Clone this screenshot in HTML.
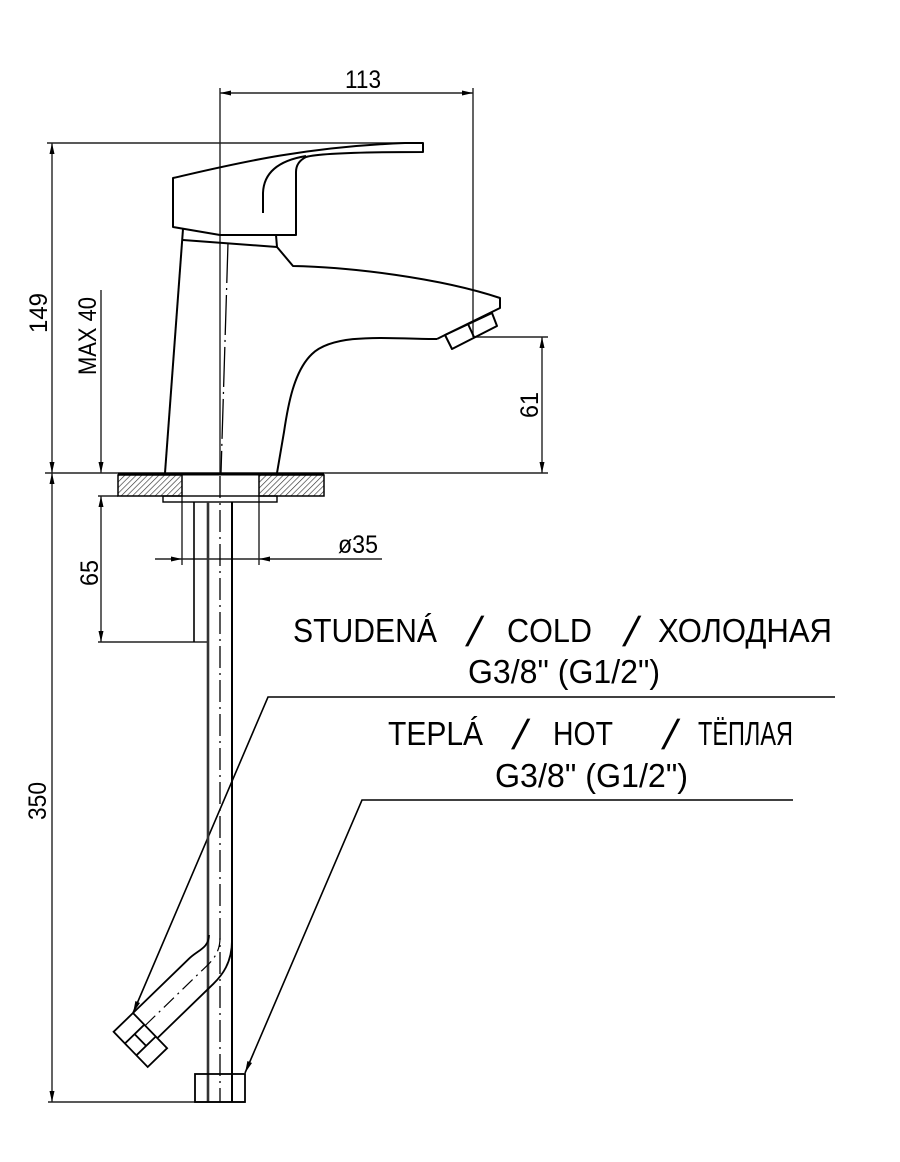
<!DOCTYPE html>
<html><head><meta charset="utf-8"><style>html,body{margin:0;padding:0;background:#fff}svg{display:block}text{font-family:"Liberation Sans Narrow","Liberation Sans",sans-serif;fill:#000}</style></head><body>
<svg width="900" height="1162" viewBox="0 0 900 1162" xmlns="http://www.w3.org/2000/svg">
<defs>
<pattern id="h" patternUnits="userSpaceOnUse" width="4" height="4" patternTransform="rotate(45)"><line x1="0" y1="0" x2="0" y2="4" stroke="#333" stroke-width="1.3"/></pattern>
</defs>
<rect width="900" height="1162" fill="#fff"/>

<!-- dimension / extension lines -->
<g stroke="#222" stroke-width="1.4" fill="none">
<path d="M220,93 L473,93"/>
<path d="M220,88 L220,473"/>
<path d="M473,88 L473,337"/>
<path d="M47,143 L405,143"/>
<path d="M52,143 L52,1102"/>
<path d="M101,290 L101,473"/>
<path d="M101,496 L101,642"/>
<path d="M473,337 L548,337"/>
<path d="M542,337 L542,473"/>
<path d="M45,473 L548,473"/>
<path d="M98,496 L118,496"/>
<path d="M98,642 L208,642"/>
<path d="M182,496 L182,565"/>
<path d="M259,496 L259,565"/>
<path d="M155,559 L382,559"/>
<path d="M48,1102 L245,1102"/>
</g>

<!-- arrowheads -->
<g fill="#000">
<polygon points="220,93 231,90.5 231,95.5"/>
<polygon points="473,93 462,90.5 462,95.5"/>
<polygon points="52,143 49.5,154 54.5,154"/>
<polygon points="52,473 49.5,462 54.5,462"/>
<polygon points="52,473 49.5,484 54.5,484"/>
<polygon points="52,1102 49.5,1091 54.5,1091"/>
<polygon points="101,473 98.5,462 103.5,462"/>
<polygon points="101,496 98.5,507 103.5,507"/>
<polygon points="101,642 98.5,631 103.5,631"/>
<polygon points="542,337 539.5,348 544.5,348"/>
<polygon points="542,473 539.5,462 544.5,462"/>
<polygon points="182,559 171,556.5 171,561.5"/>
<polygon points="259,559 270,556.5 270,561.5"/>
<polygon points="133,1013 140,1003 135.4,1001"/>
<polygon points="245,1073 252,1063 247.4,1061"/>
</g>

<!-- leaders -->
<g stroke="#000" stroke-width="1.6" fill="none">
<path d="M835,697 L268,697 L133,1013"/>
<path d="M793,800 L362,800 L245,1073"/>
</g>

<!-- faucet object lines -->
<g stroke="#000" stroke-width="2" fill="none" stroke-linejoin="round">
<path d="M173,227 L173,178 C230,165 300,147 405,143 L423,143 L423,152 C370,152 320,153 306,157 Q296,162 296,172 L296,235 L220,235 Z"/>
<path d="M263,213 L263,193 Q264,163 306,156"/>
<path d="M183,229 L165,473"/>
<path d="M183,240 L277,247"/>
<path d="M276,235 L277,247 L293,266 C350,267 440,278 500,298 L500,308 L445,335 L437,339"/>
<path d="M437,339 C390,339 335,332 312,354 C294,371 288,405 284,432 L277,473"/>
<polygon points="445,335 452,349 497,326 492,313"/>
<path d="M468,324 L474,337"/>
</g>

<!-- centerline in body -->
<path d="M228,243 L221,473" stroke="#000" stroke-width="1.3" fill="none" stroke-dasharray="40 5 2 5"/>

<!-- base plates -->
<rect x="118" y="475" width="64" height="21" fill="url(#h)" stroke="#000" stroke-width="1.5"/>
<rect x="259" y="475" width="65" height="21" fill="url(#h)" stroke="#000" stroke-width="1.5"/>
<path d="M118,474 L324,474" stroke="#000" stroke-width="3"/>
<rect x="163" y="496" width="114" height="6" fill="none" stroke="#000" stroke-width="1.4"/>

<!-- stud and pipe -->
<g stroke="#000" fill="none">
<path d="M194,502 L194,642" stroke-width="1.6"/>
<path d="M208,502 L208,1102" stroke-width="2.6" stroke="#333"/>
<path d="M232,502 L232,1102" stroke-width="2"/>
<path d="M220,476 L220,1102" stroke-width="1.3" stroke-dasharray="22 5 2 5"/>
<rect x="195" y="1074" width="50" height="28" stroke-width="1.8"/>
</g>

<!-- cold hose bent -->
<g stroke="#000" fill="none" stroke-width="1.8">
<path d="M133,1013 L189,958.7 C197.6,950.3 209,948 209,935"/>
<path d="M157.4,1038.1 L213.4,983.8 C222,975.4 232,963 232,940"/>
<path d="M145.2,1025.5 L201.2,971.2 C209.8,963 220,955 220,938" stroke-width="1.2" stroke-dasharray="14 5 2 5"/>
<polygon points="133,1013 167.1,1048.2 147.7,1067 113.6,1031.8"/>
<path d="M144.3,1024.7 L124.9,1043.5"/>
<path d="M155.8,1036.5 L136.4,1055.3"/>
<path d="M134.6,1034.1 L146.1,1045.9"/>
</g>

<!-- dimension texts -->
<text x="345" y="88" font-size="25" textLength="36" lengthAdjust="spacingAndGlyphs">113</text>
<text transform="translate(38,313) rotate(-90)" x="0" y="9" font-size="25" text-anchor="middle" textLength="40" lengthAdjust="spacingAndGlyphs">149</text>
<text transform="translate(87,336) rotate(-90)" x="0" y="9" font-size="25" text-anchor="middle" textLength="78" lengthAdjust="spacingAndGlyphs">MAX  40</text>
<text transform="translate(89,573) rotate(-90)" x="0" y="9" font-size="25" text-anchor="middle" textLength="26" lengthAdjust="spacingAndGlyphs">65</text>
<text transform="translate(37,801) rotate(-90)" x="0" y="9" font-size="25" text-anchor="middle" textLength="38" lengthAdjust="spacingAndGlyphs">350</text>
<text transform="translate(529,405) rotate(-90)" x="0" y="9" font-size="25" text-anchor="middle" textLength="26" lengthAdjust="spacingAndGlyphs">61</text>
<text x="338" y="553" font-size="25" textLength="40" lengthAdjust="spacingAndGlyphs">ø35</text>

<!-- labels -->
<g font-size="33">
<text x="293" y="642" textLength="144" lengthAdjust="spacingAndGlyphs">STUDENÁ</text>
<text x="507" y="642" textLength="85" lengthAdjust="spacingAndGlyphs">COLD</text>
<text x="658" y="642" textLength="174" lengthAdjust="spacingAndGlyphs">ХОЛОДНАЯ</text>
<text x="468" y="683" textLength="192" lengthAdjust="spacingAndGlyphs">G3/8" (G1/2")</text>
<text x="388" y="745" textLength="95" lengthAdjust="spacingAndGlyphs">TEPLÁ</text>
<text x="553" y="745" textLength="60" lengthAdjust="spacingAndGlyphs">HOT</text>
<text x="698" y="745" textLength="95" lengthAdjust="spacingAndGlyphs">ТЁПЛАЯ</text>
<text x="495" y="787" textLength="193" lengthAdjust="spacingAndGlyphs">G3/8" (G1/2")</text>
</g>
<g font-size="42" text-anchor="middle">
<text transform="translate(471,646) skewX(-14)">/</text>
<text transform="translate(628,646) skewX(-14)">/</text>
<text transform="translate(517,749) skewX(-14)">/</text>
<text transform="translate(667,749) skewX(-14)">/</text>
</g>
</svg>
</body></html>
